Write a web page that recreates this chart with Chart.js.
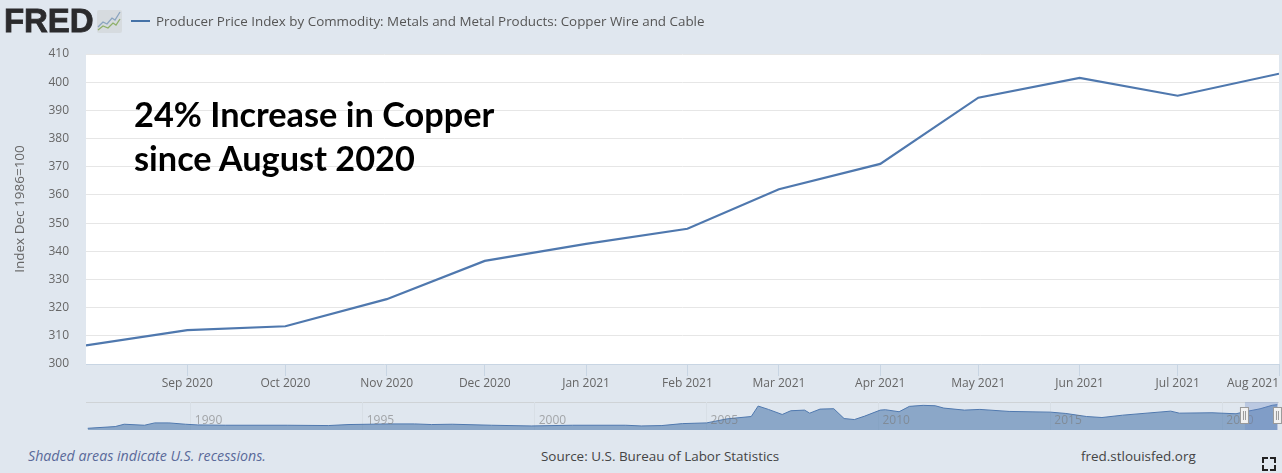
<!DOCTYPE html>
<html>
<head>
<meta charset="utf-8">
<title>FRED copper wire and cable</title>
<script src="https://cdn.jsdelivr.net/npm/chart.js@4"></script>
<style>
html, body { margin: 0; padding: 0; }
body { width: 1282px; height: 473px; background: #e0e7ef; position: relative; overflow: hidden; font-family: "Open Sans", sans-serif; }
canvas { position: absolute; left: 0; }
#mainChart { top: 0; }
#navChart { top: 402px; }
.txt { position: absolute; white-space: nowrap; }
#logo { left: 4px; top: 3px; font: bold 33px/36px "Liberation Sans", sans-serif; color: #2b2b2d; letter-spacing: -0.1px; -webkit-text-stroke: 0.8px #2b2b2d; }
#logoIcon { position: absolute; left: 97px; top: 10px; }
#legendLine { position: absolute; left: 131px; top: 20px; width: 19px; height: 2px; background: #4572a7; }
#legendText { left: 156px; top: 12px; font-size: 13.4px; line-height: 18px; color: #555; }
#note { left: 134px; top: 92px; font: bold 34.3px/44px Lato, sans-serif; color: #000; white-space: pre; }
#recess { left: 28px; top: 447px; font-size: 14.2px; line-height: 18px; font-style: italic; color: #5a6a9a; }
#source { left: 541px; top: 447px; font-size: 13.45px; line-height: 18px; color: #444; }
#site { left: 1081px; top: 447px; font-size: 13.45px; line-height: 18px; color: #444; }
#full { position: absolute; left: 1262px; top: 457px; width: 14px; height: 14px; }
#full i { position: absolute; width: 4px; height: 4px; border: 0 solid #222; }
</style>
</head>
<body>
<canvas id="mainChart" width="1282" height="400"></canvas>
<canvas id="navChart" width="1282" height="30"></canvas>

<div class="txt" id="logo">FRED</div>
<svg id="logoIcon" width="25" height="23">
  <rect width="25" height="23" rx="2" fill="#d6dbdf"/>
  <polyline points="1,17 6,12 10,14 15,8 18,10 23,2" fill="none" stroke="#8aa4bf" stroke-width="1.3"/>
  <polyline points="1,20 6,16 11,18 16,13 19,15 23,9" fill="none" stroke="#8fb06a" stroke-width="1.3"/>
</svg>
<div id="legendLine"></div>
<div class="txt" id="legendText">Producer Price Index by Commodity: Metals and Metal Products: Copper Wire and Cable</div>
<div class="txt" id="note">24% Increase in Copper
since August 2020</div>
<div class="txt" id="recess">Shaded areas indicate U.S. recessions.</div>
<div class="txt" id="source">Source: U.S. Bureau of Labor Statistics</div>
<div class="txt" id="site">fred.stlouisfed.org</div>
<div id="full">
  <i style="left:0;top:0;border-width:2px 0 0 2px"></i>
  <i style="right:0;top:0;border-width:2px 2px 0 0"></i>
  <i style="left:0;bottom:0;border-width:0 0 2px 2px"></i>
  <i style="right:0;bottom:0;border-width:0 2px 2px 0"></i>
</div>

<script>
// days since 1 Aug 2020, one per month
var monthDays = [0, 31, 61, 92, 122, 153, 184, 212, 243, 273, 304, 334, 365];
var monthLabels = ["", "Sep 2020", "Oct 2020", "Nov 2020", "Dec 2020", "Jan 2021", "Feb 2021", "Mar 2021", "Apr 2021", "May 2021", "Jun 2021", "Jul 2021", "Aug 2021"];
var ppiValues = [306.6, 312, 313.4, 323, 336.6, 342.6, 348, 362, 371, 394.5, 401.5, 395.2, 403];

var yMin = 300;
var yMax = 410;

// navigator overview
var navYears = [1987, 1987.8, 1988.06, 1988.65, 1988.95, 1989.36, 1989.84, 1990.2, 1991, 1992.8, 1994, 1994.6, 1995.8, 1996.5, 1997, 1997.6, 1998.75, 1999.9, 2001.1, 2002.65, 2003.1, 2003.7, 2004.3, 2005, 2005.6, 2006.3, 2006.5, 2006.8, 2007.2, 2007.45, 2007.85, 2008, 2008.3, 2008.7, 2009, 2009.3, 2009.6, 2010.05, 2010.2, 2010.6, 2010.9, 2011.3, 2011.65, 2011.9, 2012.5, 2012.95, 2013.8, 2015, 2015.45, 2016.05, 2016.5, 2017.1, 2018.5, 2018.75, 2019.7, 2020.4, 2020.6, 2021.1, 2021.45, 2021.6];
var navValues = [100, 122, 152, 139, 169, 169, 152, 143, 139, 139, 135, 148, 156, 156, 148, 152, 139, 130, 139, 139, 130, 135, 160, 169, 221, 251, 385, 342, 277, 325, 333, 294, 346, 351, 225, 212, 256, 333, 338, 312, 381, 394, 389, 359, 333, 342, 316, 307, 290, 251, 238, 268, 320, 294, 299, 286, 307, 350, 395, 403];
var navTicks = [1990, 1995, 2000, 2005, 2010, 2015, 2020];
var selectedRange = [2020.66, 2021.62];

var lineColor = "#4f78ae";
var tickFont = { family: "'Open Sans'", size: 12 };

Chart.defaults.animation = false;
Chart.defaults.responsive = false;

function toPoints(xs, ys) {
    return xs.map(function (x, i) { return { x: x, y: ys[i] }; });
}

new Chart(document.getElementById("mainChart"), {
    type: "line",
    data: {
        datasets: [{
            data: toPoints(monthDays, ppiValues),
            borderColor: lineColor,
            borderWidth: 2.2,
            pointRadius: 0,
            fill: false,
            tension: 0
        }]
    },
    options: {
        layout: { padding: { top: 54, right: 3 } },
        plugins: {
            legend: { display: false },
            tooltip: { enabled: false }
        },
        scales: {
            x: {
                type: "linear",
                min: 0,
                max: 365,
                afterFit: function (scale) { scale.height = 36; },
                afterBuildTicks: function (scale) {
                    scale.ticks = monthDays.map(function (d) { return { value: d }; });
                },
                grid: {
                    drawOnChartArea: false,
                    tickLength: 12,
                    tickColor: function (ctx) { return ctx.index === 0 ? "transparent" : "#c8d5e3"; }
                },
                border: { color: "#c8d5e3" },
                ticks: {
                    align: "inner",
                    autoSkip: false,
                    maxRotation: 0,
                    padding: 0,
                    color: "#666",
                    font: tickFont,
                    callback: function (v) { return monthLabels[monthDays.indexOf(v)]; }
                }
            },
            y: {
                min: yMin,
                max: yMax,
                afterFit: function (scale) { scale.width = 86; },
                grid: { color: "#e6e6e6", drawTicks: false },
                border: { display: false },
                ticks: { stepSize: 10, padding: 17, color: "#666", font: tickFont },
                title: {
                    display: true,
                    text: "Index Dec 1986=100",
                    color: "#666",
                    font: { family: "'Open Sans'", size: 13.5 },
                    padding: { top: 12, bottom: 0 }
                }
            }
        }
    },
    plugins: [{
        id: "plotBg",
        beforeDraw: function (chart) {
            var a = chart.chartArea;
            chart.ctx.fillStyle = "#fff";
            chart.ctx.fillRect(a.left, a.top, a.right - a.left, a.bottom - a.top);
        }
    }]
});

// year labels sit inside the overview, the axis itself clips them away
var navYearLabels = {
    id: "navYearLabels",
    afterDatasetsDraw: function (chart) {
        var ctx = chart.ctx;
        ctx.save();
        ctx.font = "12px 'Open Sans'";
        ctx.fillStyle = "rgba(120,120,120,0.6)";
        ctx.textBaseline = "middle";
        navTicks.forEach(function (y) {
            ctx.fillText(String(y), chart.scales.x.getPixelForValue(y) + 4, 19);
        });
        ctx.restore();
    }
};

// draws the selected window and the two handles on top of the overview
var navigatorMask = {
    id: "navigatorMask",
    afterDraw: function (chart) {
        var ctx = chart.ctx;
        var a = chart.chartArea;
        var x0 = chart.scales.x.getPixelForValue(selectedRange[0]);
        var x1 = chart.scales.x.getPixelForValue(selectedRange[1]);

        ctx.save();
        ctx.fillStyle = "rgba(102,133,194,0.3)";
        ctx.fillRect(x0, a.top, x1 - x0, a.bottom - a.top);
        [x0, x1].forEach(function (x) {
            ctx.fillStyle = "#f2f2f2";
            ctx.strokeStyle = "#999";
            ctx.fillRect(x - 4.5, 5.5, 8, 16);
            ctx.strokeRect(x - 4.5, 5.5, 8, 16);
            ctx.beginPath();
            ctx.moveTo(x - 1.5, 9); ctx.lineTo(x - 1.5, 18);
            ctx.moveTo(x + 0.5, 9); ctx.lineTo(x + 0.5, 18);
            ctx.stroke();
        });
        ctx.restore();
    }
};

new Chart(document.getElementById("navChart"), {
    type: "line",
    data: {
        datasets: [{
            data: toPoints(navYears, navValues),
            borderColor: lineColor,
            borderWidth: 1,
            backgroundColor: "rgba(69,114,167,0.55)",
            pointRadius: 0,
            fill: "start",
            tension: 0
        }]
    },
    options: {
        layout: { padding: { left: 86, right: 3, bottom: 2 } },
        plugins: {
            legend: { display: false },
            tooltip: { enabled: false }
        },
        scales: {
            x: {
                type: "linear",
                min: 1986.95,
                max: 2021.65,
                afterFit: function (scale) { scale.height = 0; },
                afterBuildTicks: function (scale) {
                    scale.ticks = navTicks.map(function (y) { return { value: y }; });
                },
                grid: { color: "#d8dfe6", drawTicks: false },
                border: { display: false },
                ticks: { display: false }
            },
            y: {
                display: false,
                min: 78,
                max: 437
            }
        }
    },
    plugins: [{
        id: "navTopLine",
        beforeDraw: function (chart) {
            chart.ctx.fillStyle = "#cfd3d6";
            chart.ctx.fillRect(chart.chartArea.left, 0, chart.chartArea.right - chart.chartArea.left, 1);
        }
    }, navYearLabels, navigatorMask]
});
</script>
</body>
</html>
